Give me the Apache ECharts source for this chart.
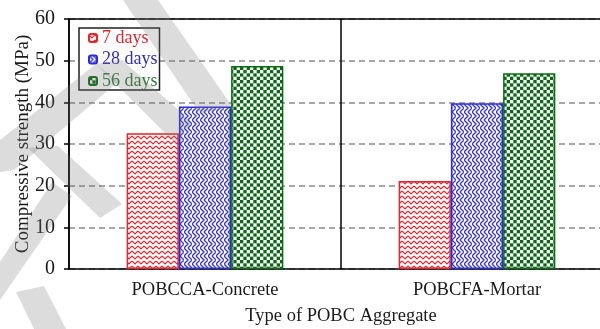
<!DOCTYPE html>
<html>
<head>
<meta charset="utf-8">
<script src="https://cdn.jsdelivr.net/npm/echarts@6/dist/echarts.min.js"></script>
<style>
  html, body { margin: 0; padding: 0; background: #fff; }
  #chart { width: 600px; height: 329px; }
</style>
</head>
<body>
<div id="chart"></div>
<script>
// Compressive strength of palm oil boiler clinker (POBC) mixes
const categories = ['POBCCA-Concrete', 'POBCFA-Mortar'];
const seriesNames = ['7 days', '28 days', '56 days'];
const days7 = [32.6, 21.1];
const days28 = [39.0, 39.8];
const days56 = [48.7, 47.0];
const yTicks = [0, 10, 20, 30, 40, 50, 60];

const FONT = '"Liberation Serif", "Times New Roman", serif';

// Hatch fills drawn on small canvases and tiled over the bars
function tile(w, h, draw) {
  const c = document.createElement('canvas');
  c.width = w; c.height = h;
  const g = c.getContext('2d');
  g.fillStyle = '#fff';
  g.fillRect(0, 0, w, h);
  draw(g, w, h);
  return { image: c, repeat: 'repeat' };
}

const zigzagRed = tile(6, 5, (g) => {
  g.strokeStyle = '#e5262e';
  g.lineWidth = 1.2;
  g.beginPath();
  g.moveTo(0, 1); g.lineTo(3, 4); g.lineTo(6, 1);
  g.stroke();
});

const weaveBlue = tile(8, 8, (g) => {
  g.strokeStyle = '#3a3ad6';
  g.lineWidth = 1.4;
  g.beginPath();
  g.moveTo(0, 0); g.lineTo(4, 4); g.lineTo(0, 8);
  g.moveTo(4, 0); g.lineTo(8, 4); g.lineTo(4, 8);
  g.stroke();
});

const checkerGreen = tile(20, 20, (g) => {
  g.fillStyle = '#0a6a14';
  const s = 20 / 6;
  for (let i = 0; i < 6; i++) {
    for (let j = 0; j < 6; j++) {
      if ((i + j) % 2 === 0) g.fillRect(i * s, j * s, s, s);
    }
  }
});

const fills = [zigzagRed, weaveBlue, checkerGreen];
const edges = ['#e8232b', '#2a2ae0', '#0b6b12'];
const textColors = ['#e3262e', '#2f2fb8', '#2e7a34'];
const values = [days7, days28, days56];

// Faint diagonal page watermark strokes over the left part of the figure
const watermarkStrokes = [
  [[123, 0], [158, 0], [232, 106], [200, 114]],
  [[96, 64], [122, 60], [192, 122], [176, 144]],
  [[96, 64], [118, 82], [14, 170], [0, 172], [0, 140]],
  [[28, 148], [58, 146], [122, 204], [100, 218]],
  [[0, 262], [0, 300], [72, 196], [52, 182]],
  [[16, 292], [44, 286], [66, 329], [34, 329]]
];

const chart = echarts.init(document.getElementById('chart'), null, { renderer: 'canvas' });

chart.setOption({
  animation: false,
  backgroundColor: '#fff',
  // the plot frame runs a little past the right edge of the page
  grid: { left: 69, top: 19, right: -13, bottom: 60, containLabel: false, outerBoundsMode: 'none' },
  legend: {
    orient: 'vertical',
    left: 79,
    top: 28,
    padding: [1, 2, 0, 9],
    itemGap: 3.5,
    itemWidth: 8,
    itemHeight: 8,
    borderColor: '#222',
    borderWidth: 1.5,
    backgroundColor: '#fff',
    textStyle: { fontFamily: FONT, fontSize: 18 },
    data: seriesNames.map((n, i) => ({ name: n, textStyle: { color: textColors[i] } }))
  },
  xAxis: [
    {
      type: 'category',
      data: categories,
      position: 'bottom',
      axisLine: { lineStyle: { color: '#000', width: 1.5 } },
      axisTick: { show: false },
      axisLabel: { fontFamily: FONT, fontSize: 18.5, color: '#1a1a1a', margin: 12 },
      splitLine: { show: true, interval: 0, lineStyle: { color: '#000', width: 1.5 } },
      name: 'Type of POBC Aggregate',
      nameLocation: 'middle',
      nameGap: 38,
      nameMoveOverlap: false,
      nameTextStyle: { fontFamily: FONT, fontSize: 18.5, color: '#1a1a1a', verticalAlign: 'top' }
    },
    {
      type: 'category',
      data: categories,
      position: 'top',
      axisLine: { lineStyle: { color: '#000', width: 1.5 } },
      axisTick: { show: false },
      axisLabel: { show: false },
      splitLine: { show: false }
    }
  ],
  yAxis: {
    type: 'value',
    min: yTicks[0],
    max: yTicks[yTicks.length - 1],
    interval: 10,
    axisLine: { show: true, lineStyle: { color: '#000', width: 1.5 } },
    axisTick: { show: true, length: 5, lineStyle: { color: '#000', width: 1.5 } },
    axisLabel: { fontFamily: FONT, fontSize: 20, color: '#1a1a1a', margin: 14 },
    splitLine: { show: true, lineStyle: { color: '#8a8a8a', width: 1.5, type: [6, 4] } },
    name: 'Compressive strength (MPa)',
    nameLocation: 'middle',
    nameGap: 36,
    nameMoveOverlap: false,
    nameTextStyle: { fontFamily: FONT, fontSize: 19, color: '#1a1a1a' }
  },
  graphic: watermarkStrokes.map((pts) => ({
    type: 'polygon',
    silent: true,
    z: 100,
    shape: { points: pts },
    style: { fill: 'rgba(120,120,120,0.26)' }
  })),
  series: seriesNames.map((n, i) => ({
    name: n,
    type: 'bar',
    data: values[i],
    barGap: '0%',
    barCategoryGap: '42.4%',
    itemStyle: { color: fills[i], borderColor: edges[i], borderWidth: 1.5 }
  }))
});
</script>
</body>
</html>
